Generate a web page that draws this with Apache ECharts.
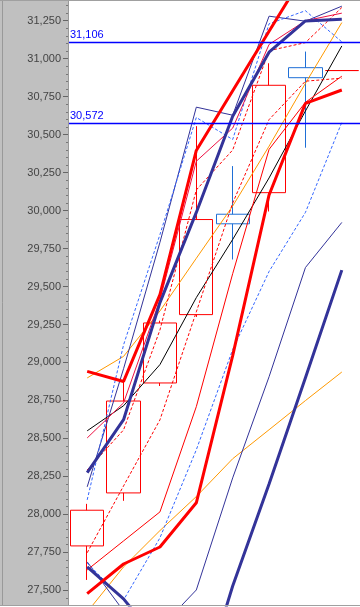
<!DOCTYPE html>
<html><head><meta charset="utf-8">
<script src="https://cdn.jsdelivr.net/npm/echarts@6/dist/echarts.min.js"></script>
<style>html,body{margin:0;padding:0;background:#fff}#c{width:360px;height:607px}</style>
</head><body><div id="c"></div>
<script>
const categories = ['1','2','3','4','5','6','7','8'];
// [open, close, low, high]
const candles = [
  [27792, 28027, 27568, 28069],
  [28141, 28746, 28089, 28876],
  [28865, 29260, 28845, 29275],
  [29315, 29941, 29300, 30556],
  [29976, 29913, 29678, 30293],
  [30118, 30825, 29994, 30970],
  [30941, 30875, 30414, 31047],
  [30922, 30922, 30922, 30922]
];
const majorTicks = [27500, 27750, 28000, 28250, 28500, 28750, 29000, 29250, 29500, 29750, 30000, 30250, 30500, 30750, 31000, 31250];
const refLevels = [31106, 30572];
const thickRedA = [27478, 27673, 27785, 28076, 29045, 30103, 30706, 30794];
const thickRedB = [28941, 28875, 29447, 30396, 30789, 31181, 31570, 31800];
const thickNavyC = [28275, 28623, 29394, 29988, 30621, 31043, 31249, 31260];
const thickNavyD = [27654, 27443, 27150, 26750, 27528, 28200, 28900, 29608];
const thinNavyE1 = [28181, 28959, 29791, 30681, 30628, 31280, 31247, 31346];
const thinNavyE2 = [27687, 27364, 27250, 27502, 28240, 28906, 29625, 29922];
const blueDashF1 = [28095, 29116, 29842, 30613, 30468, 31230, 31316, 31111];
const blueDashF2 = [27680, 27436, 27845, 28425, 29085, 29599, 29988, 30581];
const orangeUpper = [28898, 29040, 29339, 29686, 30030, 30424, 30838, 31238];
const orangeLower = [27357, 27654, 27893, 28117, 28366, 28557, 28749, 28937];
const blackLine = [28550, 28715, 28986, 29427, 29810, 30215, 30656, 31084];
const thinRedH1 = [27634, 27825, 28016, 28709, 29585, 30403, 30713, 30885];
const crimsonH2 = [28503, 28734, 29413, 30325, 30543, 31094, 31250, 31300];
const redDashI1 = [27747, 28187, 28622, 29333, 30050, 30599, 30852, 30872];
const redDashI2 = [28292, 28556, 29214, 30136, 30399, 31053, 31106, 31337];

const yMin = 27403, yMax = 31380;
const minorTicks = [];
for (let i = 0; i < majorTicks.length; i++) {
  for (let k = -4; k <= 4; k++) {
    const v = majorTicks[i] + k * 50;
    if (k !== 0 && v > yMin && v < yMax && majorTicks.indexOf(v) < 0 && minorTicks.indexOf(v) < 0) minorTicks.push(v);
  }
}
const fmt = v => Number(v).toLocaleString('en-US');

function line(data, color, width, type, z) {
  return { type: 'line', data: data, symbol: 'none', smooth: false, silent: true,
    lineStyle: { color: color, width: width, type: type || 'solid' }, z: z || 3, animation: false };
}

const chart = echarts.init(document.getElementById('c'), null, { renderer: 'canvas' });
chart.setOption({
  animation: false,
  backgroundColor: '#ffffff',
  grid: { left: 69, right: 0, top: 1, bottom: 2, containLabel: false },
  xAxis: { type: 'category', data: categories, boundaryGap: true, show: false },
  yAxis: [
    { type: 'value', min: yMin, max: yMax, position: 'left', splitLine: { show: false },
      axisLine: { show: false },
      axisTick: { show: true, length: 6, customValues: majorTicks, lineStyle: { color: '#666' } },
      axisLabel: { customValues: majorTicks, formatter: fmt, margin: 8, color: '#444',
        fontFamily: 'Liberation Sans, Arial, sans-serif', fontSize: 11 } },
    { type: 'value', min: yMin, max: yMax, position: 'left', splitLine: { show: false },
      axisLine: { show: false },
      axisTick: { show: true, length: 3, customValues: minorTicks, lineStyle: { color: '#777' } },
      axisLabel: { show: false } }
  ],
  graphic: [
    { type: 'rect', shape: { x: 0, y: 0, width: 68, height: 605 }, style: { fill: '#c0c0c0' }, z: -10, silent: true },
    { type: 'line', shape: { x1: 2.5, y1: 0, x2: 2.5, y2: 605 }, style: { stroke: '#999', lineWidth: 1 }, z: 10, silent: true },
    { type: 'line', shape: { x1: 68.5, y1: 0, x2: 68.5, y2: 605 }, style: { stroke: '#999', lineWidth: 1 }, z: 10, silent: true },
    { type: 'line', shape: { x1: 0, y1: 0.5, x2: 360, y2: 0.5 }, style: { stroke: '#a0a0a0', lineWidth: 1 }, z: 10, silent: true },
    { type: 'line', shape: { x1: 0, y1: 605.5, x2: 360, y2: 605.5 }, style: { stroke: '#a0a0a0', lineWidth: 1 }, z: 10, silent: true }
  ],
  series: [
    { type: 'candlestick', data: candles, barWidth: '93%', z: 2,
      itemStyle: { color: 'rgba(0,0,0,0)', color0: 'rgba(0,0,0,0)', borderColor: '#ff0000', borderColor0: '#1f6fd6', borderColorDoji: '#ff0000', borderWidth: 1 },
      markLine: { silent: true, symbol: ['none', 'none'], animation: false,
        lineStyle: { color: '#0000ff', width: 1.3, type: 'solid' },
        label: { show: true, position: 'insideStartTop', formatter: p => fmt(p.value), color: '#0000ff',
          fontFamily: 'Liberation Sans, Arial, sans-serif', fontSize: 11, distance: [1, 2] },
        data: refLevels.map(v => ({ yAxis: v })) } },
    line(orangeLower, '#ff9900', 1),
    line(orangeUpper, '#ff9900', 1),
    line(blackLine, '#000000', 1),
    line(thinNavyE2, '#333399', 1),
    line(thinNavyE1, '#333399', 1),
    line(blueDashF1, '#3366ff', 1, [3, 2]),
    line(blueDashF2, '#3366ff', 1, [3, 2]),
    line(redDashI1, '#ff0000', 1, [3, 2]),
    line(redDashI2, '#ff0000', 1, [3, 2]),
    line(thinRedH1, '#ff0000', 1),
    line(crimsonH2, '#ee1144', 1),
    line(thickNavyD, '#333399', 3),
    line(thickNavyC, '#333399', 3),
    line(thickRedA, '#ff0000', 3),
    line(thickRedB, '#ff0000', 3)
  ]
});
</script></body></html>
